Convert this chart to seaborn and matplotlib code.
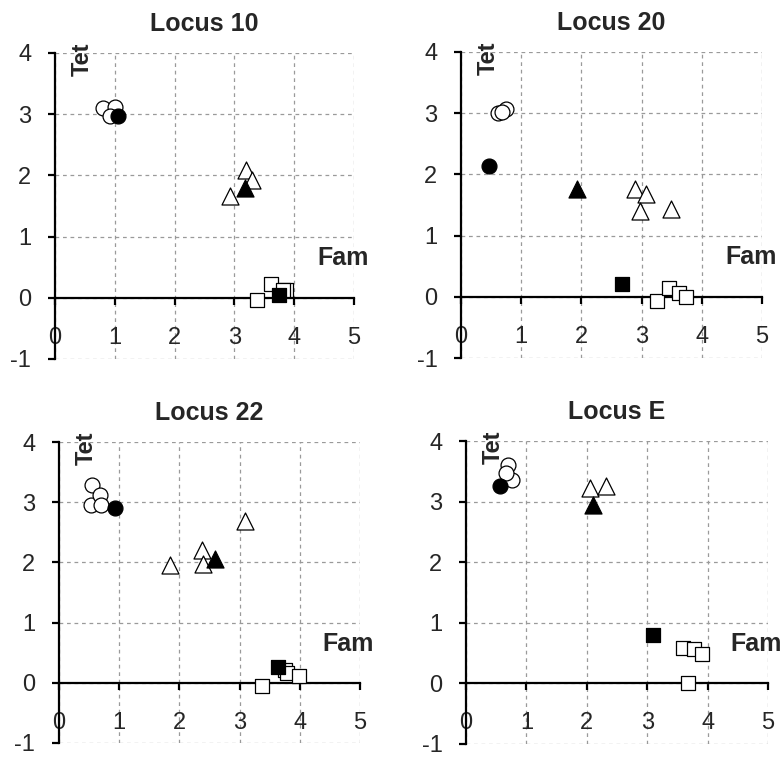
import matplotlib
matplotlib.use("Agg")
import matplotlib.pyplot as plt
import seaborn as sns
import pandas as pd

# ---------------- data ----------------
titles = ["Locus 10", "Locus 20", "Locus 22", "Locus E"]
x_ticks = [0, 1, 2, 3, 4, 5]
y_ticks = [-1, 0, 1, 2, 3, 4]

locus10_fam = [0.80, 1.00, 0.92, 1.05, 3.20, 3.29, 2.93, 3.18, 3.37, 3.62, 3.87, 3.82, 3.75]
locus10_tet = [3.10, 3.12, 2.97, 2.97, 2.08, 1.92, 1.67, 1.80, -0.04, 0.22, 0.12, 0.12, 0.04]
locus10_shape = ["circle"] * 4 + ["triangle"] * 4 + ["square"] * 5
locus10_fill = ["open", "open", "open", "filled", "open", "open", "open", "filled",
                "open", "open", "open", "open", "filled"]

locus20_fam = [0.62, 0.75, 0.68, 0.47, 2.89, 3.07, 2.98, 3.48, 1.93, 3.26, 3.46, 3.62, 3.73, 2.68]
locus20_tet = [3.00, 3.07, 3.02, 2.14, 1.76, 1.68, 1.41, 1.44, 1.76, -0.07, 0.15, 0.07, -0.01, 0.21]
locus20_shape = ["circle"] * 4 + ["triangle"] * 5 + ["square"] * 5
locus20_fill = ["open", "open", "open", "filled", "open", "open", "open", "open", "filled",
                "open", "open", "open", "open", "filled"]

locus22_fam = [0.55, 0.53, 0.68, 0.70, 0.93, 1.84, 2.37, 2.39, 3.09, 2.59, 3.64, 3.75, 3.78, 3.99, 3.38]
locus22_tet = [3.29, 2.96, 3.12, 2.96, 2.91, 1.95, 2.20, 1.98, 2.69, 2.06, 0.26, 0.22, 0.16, 0.11, -0.05]
locus22_shape = ["circle"] * 5 + ["triangle"] * 5 + ["square"] * 5
locus22_fill = ["open", "open", "open", "open", "filled", "open", "open", "open", "open", "filled",
                "filled", "open", "open", "open", "open"]

locusE_fam = [0.70, 0.76, 0.67, 0.56, 2.06, 2.32, 2.10, 3.59, 3.78, 3.91, 3.67, 3.09]
locusE_tet = [3.61, 3.36, 3.47, 3.25, 3.22, 3.26, 2.95, 0.58, 0.57, 0.48, 0.00, 0.79]
locusE_shape = ["circle"] * 4 + ["triangle"] * 3 + ["square"] * 5
locusE_fill = ["open", "open", "open", "filled", "open", "open", "filled",
               "open", "open", "open", "open", "filled"]

panels = [
    (locus10_fam, locus10_tet, locus10_shape, locus10_fill),
    (locus20_fam, locus20_tet, locus20_shape, locus20_fill),
    (locus22_fam, locus22_tet, locus22_shape, locus22_fill),
    (locusE_fam, locusE_tet, locusE_shape, locusE_fill),
]

# ---------------- style ----------------
sns.set_theme(style="white")
plt.rcParams["font.family"] = ["Liberation Sans", "DejaVu Sans"]
plt.rcParams["axes.unicode_minus"] = False

marker_map = {"circle": "o", "triangle": "^", "square": "s"}
size_map = {"circle": 115, "triangle": 150, "square": 110}
color_map = {"open": "white", "filled": "black"}

fig = plt.figure(figsize=(7.81, 7.58), dpi=100)
positions = [
    [0.0704, 0.5264, 0.3829, 0.4037],
    [0.5903, 0.5277, 0.3854, 0.4037],
    [0.0755, 0.0198, 0.3854, 0.3970],
    [0.5967, 0.0190, 0.3867, 0.3992],
]

for title, pos, (fam, tet, shape, fill) in zip(titles, positions, panels):
    ax = fig.add_axes(pos)
    df = pd.DataFrame({"Fam": fam, "Tet": tet, "shape": shape, "fill": fill})
    ax.set_xlim(0, 5)
    ax.set_ylim(-1, 4)
    ax.set_xticks(x_ticks)
    ax.set_yticks(y_ticks)
    ax.grid(True, color="#9a9a9a", linestyle=(0, (3, 3)), linewidth=0.9)
    ax.set_axisbelow(True)
    for spine in ["top", "right"]:
        ax.spines[spine].set_visible(False)
    ax.spines["bottom"].set_position(("data", 0))
    ax.spines["left"].set_position(("data", 0))
    for spine in ["bottom", "left"]:
        ax.spines[spine].set_color("black")
        ax.spines[spine].set_linewidth(1.6)
        ax.spines[spine].set_zorder(2.5)
    ax.tick_params(axis="x", direction="out", length=5, width=1.6, color="black",
                   pad=16, labelsize=17, bottom=True)
    ax.tick_params(axis="y", direction="out", length=5, width=1.6, color="black",
                   pad=12, labelsize=17, left=True)

    for shp in ["circle", "triangle", "square"]:
        for fl in ["open", "filled"]:
            sub = df[(df["shape"] == shp) & (df["fill"] == fl)]
            if sub.empty:
                continue
            sns.scatterplot(data=sub, x="Fam", y="Tet", marker=marker_map[shp],
                            s=size_map[shp], color=color_map[fl], edgecolor="black",
                            linewidth=0.9, ax=ax, legend=False, zorder=3, clip_on=False)

    ax.set_xlabel("")
    ax.set_ylabel("")
    ax.set_title(title, fontsize=18, fontweight="bold", pad=16)
    ax.text(0.45, 3.9, "Tet", rotation=90, fontsize=17, fontweight="bold",
            ha="center", va="center")
    ax.text(4.81, 0.65, "Fam", fontsize=18, fontweight="bold", ha="center", va="center")

fig.savefig("out.png", dpi=100)
